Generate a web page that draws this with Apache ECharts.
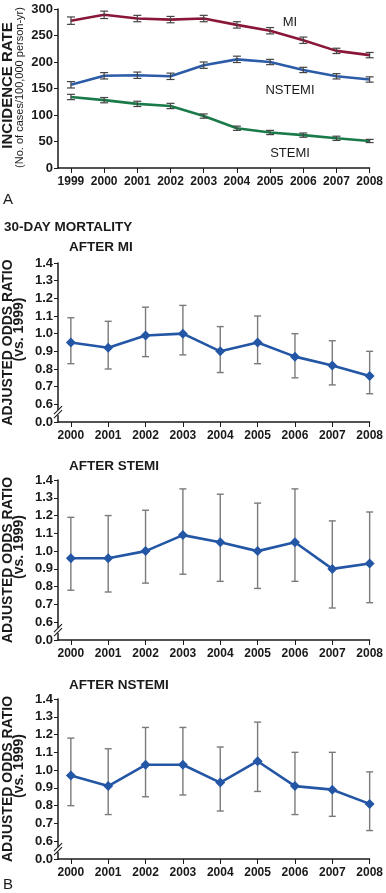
<!DOCTYPE html>
<html><head><meta charset="utf-8">
<script src="https://cdn.jsdelivr.net/npm/echarts@6/dist/echarts.min.js"></script>
<style>html,body{margin:0;padding:0;background:#fff}#c{width:386px;height:893px}</style>
</head><body><div id="c"></div>
<script>
// ---------- data ----------
const years = [1999, 2000, 2001, 2002, 2003, 2004, 2005, 2006, 2007, 2008];
const incMI = [278, 289, 282, 280, 282, 270, 259, 241, 221, 213];
const incMIerr = [7, 7, 6, 6, 6, 6, 6, 6, 5, 5];
const incNSTEMI = [157, 174, 175, 173, 194, 205, 200, 185, 173, 167];
const incNSTEMIerr = [6, 6, 6, 6, 6, 6, 5, 5, 5, 5];
const incSTEMI = [134, 128, 121, 117, 98, 75, 67, 62, 56, 51];
const incSTEMIerr = [5, 5, 5, 5, 4, 4, 4, 4, 4, 3];
const incSeriesNames = ['MI', 'NSTEMI', 'STEMI'];
const incTicks = [0, 50, 100, 150, 200, 250, 300];

const mortYears = [2000, 2001, 2002, 2003, 2004, 2005, 2006, 2007, 2008];
const orMI = [0.95, 0.92, 0.99, 1.00, 0.90, 0.95, 0.87, 0.82, 0.76];
const orMIlow = [0.83, 0.80, 0.87, 0.88, 0.78, 0.83, 0.75, 0.71, 0.66];
const orMIhigh = [1.09, 1.07, 1.15, 1.16, 1.04, 1.10, 1.00, 0.96, 0.90];
const orSTEMI = [0.96, 0.96, 1.00, 1.09, 1.05, 1.00, 1.05, 0.90, 0.93];
const orSTEMIlow = [0.78, 0.77, 0.82, 0.87, 0.83, 0.79, 0.83, 0.68, 0.71];
const orSTEMIhigh = [1.19, 1.20, 1.23, 1.35, 1.32, 1.27, 1.35, 1.17, 1.22];
const orNSTEMI = [0.97, 0.91, 1.03, 1.03, 0.93, 1.05, 0.91, 0.89, 0.81];
const orNSTEMIlow = [0.80, 0.75, 0.85, 0.86, 0.77, 0.88, 0.75, 0.74, 0.66];
const orNSTEMIhigh = [1.18, 1.12, 1.24, 1.24, 1.13, 1.27, 1.10, 1.10, 0.99];
const orTickLabels = ['0.0', '0.6', '0.7', '0.8', '0.9', '1.0', '1.1', '1.2', '1.3', '1.4'];
const mortTitles = ['AFTER MI', 'AFTER STEMI', 'AFTER NSTEMI'];

// ---------- styling ----------
const FONT = '"Liberation Sans", Arial, Helvetica, sans-serif';
const INK = '#1a1a1a';
const colMI = '#8a1739', colN = '#2c5ca8', colS = '#1b7a49', colOR = '#2456a6';

const chart = echarts.init(document.getElementById('c'), null, {renderer: 'canvas'});

const gridTops = [9, 263, 480, 699];
const gridHeights = [159, 159, 160, 160];
const grids = gridTops.map((t, i) => ({left: 58, width: 316, top: t, height: gridHeights[i]}));

function xAx(i, vals, min) {
  return {
    type: 'value', gridIndex: i, min: min, max: vals[vals.length - 1],
    axisLine: {show: true, lineStyle: {color: INK, width: 1.5}},
    axisTick: {show: true, customValues: vals, length: 5, lineStyle: {color: INK, width: 1}},
    axisLabel: {show: true, customValues: vals, margin: 8, color: INK, fontFamily: FONT, fontWeight: 'bold', fontSize: 12,
      formatter: v => String(Math.round(v))},
    splitLine: {show: false}
  };
}
const xAxes = [xAx(0, years, 1998.61)];
for (let i = 1; i <= 3; i++) xAxes.push(xAx(i, mortYears, 1999.656));

const yAxes = [{
  type: 'value', gridIndex: 0, min: incTicks[0], max: incTicks[incTicks.length - 1], interval: 50,
  axisLine: {show: true, lineStyle: {color: INK, width: 1.5}},
  axisTick: {show: true, length: 4, lineStyle: {color: INK}},
  axisLabel: {margin: 5, color: INK, fontFamily: FONT, fontWeight: 'bold', fontSize: 13},
  splitLine: {show: false}
}];
for (let i = 1; i <= 3; i++) {
  yAxes.push({
    type: 'value', gridIndex: i, min: 0.5, max: 1.4, interval: 0.1,
    axisLine: {show: true, lineStyle: {color: INK, width: 1.5}},
    axisTick: {show: true, length: 4, lineStyle: {color: INK}},
    axisLabel: {margin: 5, color: INK, fontFamily: FONT, fontWeight: 'bold', fontSize: 13,
      formatter: v => orTickLabels[Math.round(v * 10) - 5]},
    splitLine: {show: false}
  });
}

function errSeries(ai, xs, lo, hi, color, cap, lw, z) {
  return {
    type: 'custom', xAxisIndex: ai, yAxisIndex: ai, z: z, silent: true,
    data: xs.map((x, i) => [x, lo[i], hi[i]]),
    encode: {x: 0, y: [1, 2]},
    renderItem(params, api) {
      const x = api.value(0);
      const a = api.coord([x, api.value(1)]);
      const b = api.coord([x, api.value(2)]);
      const w = cap / 2;
      const st = {stroke: color, lineWidth: lw};
      return {type: 'group', children: [
        {type: 'line', shape: {x1: a[0], y1: a[1], x2: b[0], y2: b[1]}, style: st},
        {type: 'line', shape: {x1: a[0] - w, y1: a[1], x2: a[0] + w, y2: a[1]}, style: st},
        {type: 'line', shape: {x1: b[0] - w, y1: b[1], x2: b[0] + w, y2: b[1]}, style: st}
      ]};
    }
  };
}
function incLine(vals, color) {
  return {type: 'line', xAxisIndex: 0, yAxisIndex: 0, data: years.map((y, i) => [y, vals[i]]),
    symbol: 'none', lineStyle: {color: color, width: 2.6}, z: 2, silent: true};
}
function orLine(ai, vals) {
  return {type: 'line', xAxisIndex: ai, yAxisIndex: ai, data: mortYears.map((y, i) => [y, vals[i]]),
    symbol: 'diamond', symbolSize: 10, showAllSymbol: true,
    itemStyle: {color: colOR}, lineStyle: {color: colOR, width: 2.6}, z: 3, silent: true};
}

const series = [
  incLine(incMI, colMI), incLine(incNSTEMI, colN), incLine(incSTEMI, colS),
  errSeries(0, years, incMI.map((v, i) => v - incMIerr[i]), incMI.map((v, i) => v + incMIerr[i]), '#444', 8, 1.2, 4),
  errSeries(0, years, incNSTEMI.map((v, i) => v - incNSTEMIerr[i]), incNSTEMI.map((v, i) => v + incNSTEMIerr[i]), '#444', 8, 1.2, 4),
  errSeries(0, years, incSTEMI.map((v, i) => v - incSTEMIerr[i]), incSTEMI.map((v, i) => v + incSTEMIerr[i]), '#444', 8, 1.2, 4),
  errSeries(1, mortYears, orMIlow, orMIhigh, '#7a7a7a', 7, 1.4, 1),
  errSeries(2, mortYears, orSTEMIlow, orSTEMIhigh, '#7a7a7a', 7, 1.4, 1),
  errSeries(3, mortYears, orNSTEMIlow, orNSTEMIhigh, '#7a7a7a', 7, 1.4, 1),
  orLine(1, orMI), orLine(2, orSTEMI), orLine(3, orNSTEMI)
];

chart.setOption({
  animation: false,
  backgroundColor: '#fff',
  grid: grids, xAxis: xAxes, yAxis: yAxes, series: series
});

// ---------- annotations ----------
function txt(text, x, y, size, bold, opts) {
  return Object.assign({type: 'text', x: x, y: y, z: 100,
    style: {text: text, fill: INK, fontFamily: FONT, fontSize: size, fontWeight: bold ? 'bold' : 'normal',
      textAlign: 'left', textVerticalAlign: 'middle'}}, opts || {});
}
function rot(text, x, y, size, bold) {
  const t = txt(text, x, y, size, bold, {rotation: Math.PI / 2});
  t.style.textAlign = 'center';
  return t;
}
const g = [];
const incLabelPos = [[2005.6, 274], [2005.6, 147], [2005.6, 28]];
incSeriesNames.forEach((n, i) => {
  const p = chart.convertToPixel({xAxisIndex: 0, yAxisIndex: 0}, incLabelPos[i]);
  const t = txt(n, p[0], p[1], 13, false);
  t.style.textAlign = 'center';
  g.push(t);
});
const c0 = gridTops[0] + gridHeights[0] / 2 - 3;
g.push(rot('INCIDENCE RATE', 8, c0, 15, true));
g.push(rot('(No. of cases/100,000 person-yr)', 20, c0 + 2, 11, false));
g.push(txt('A', 3, 200, 15, false));
g.push(txt('30-DAY MORTALITY', 4, 227, 13.5, true));
g.push(txt('B', 3, 885, 15, false));
const titleY = [247, 466, 685];
for (let i = 1; i <= 3; i++) {
  g.push(txt(mortTitles[i - 1], 69, titleY[i - 1], 13.5, true));
  const c = gridTops[i] + gridHeights[i] / 2;
  g.push(rot('ADJUSTED ODDS RATIO', 8, c, 14, true));
  g.push(rot('(vs. 1999)', 19, c - 13, 14, true));
  const p = chart.convertToPixel({xAxisIndex: i, yAxisIndex: i}, [1999.656, 0.55]);
  g.push({type: 'rect', z: 101, shape: {x: p[0] - 3, y: p[1] - 3, width: 6, height: 5}, style: {fill: '#fff'}});
  g.push({type: 'line', z: 102, shape: {x1: p[0] - 4, y1: p[1] + 1, x2: p[0] + 4, y2: p[1] - 7}, style: {stroke: INK, lineWidth: 1.1}});
  g.push({type: 'line', z: 102, shape: {x1: p[0] - 4, y1: p[1] + 5, x2: p[0] + 4, y2: p[1] - 3}, style: {stroke: INK, lineWidth: 1.1}});
}
chart.setOption({graphic: g});
</script></body></html>
